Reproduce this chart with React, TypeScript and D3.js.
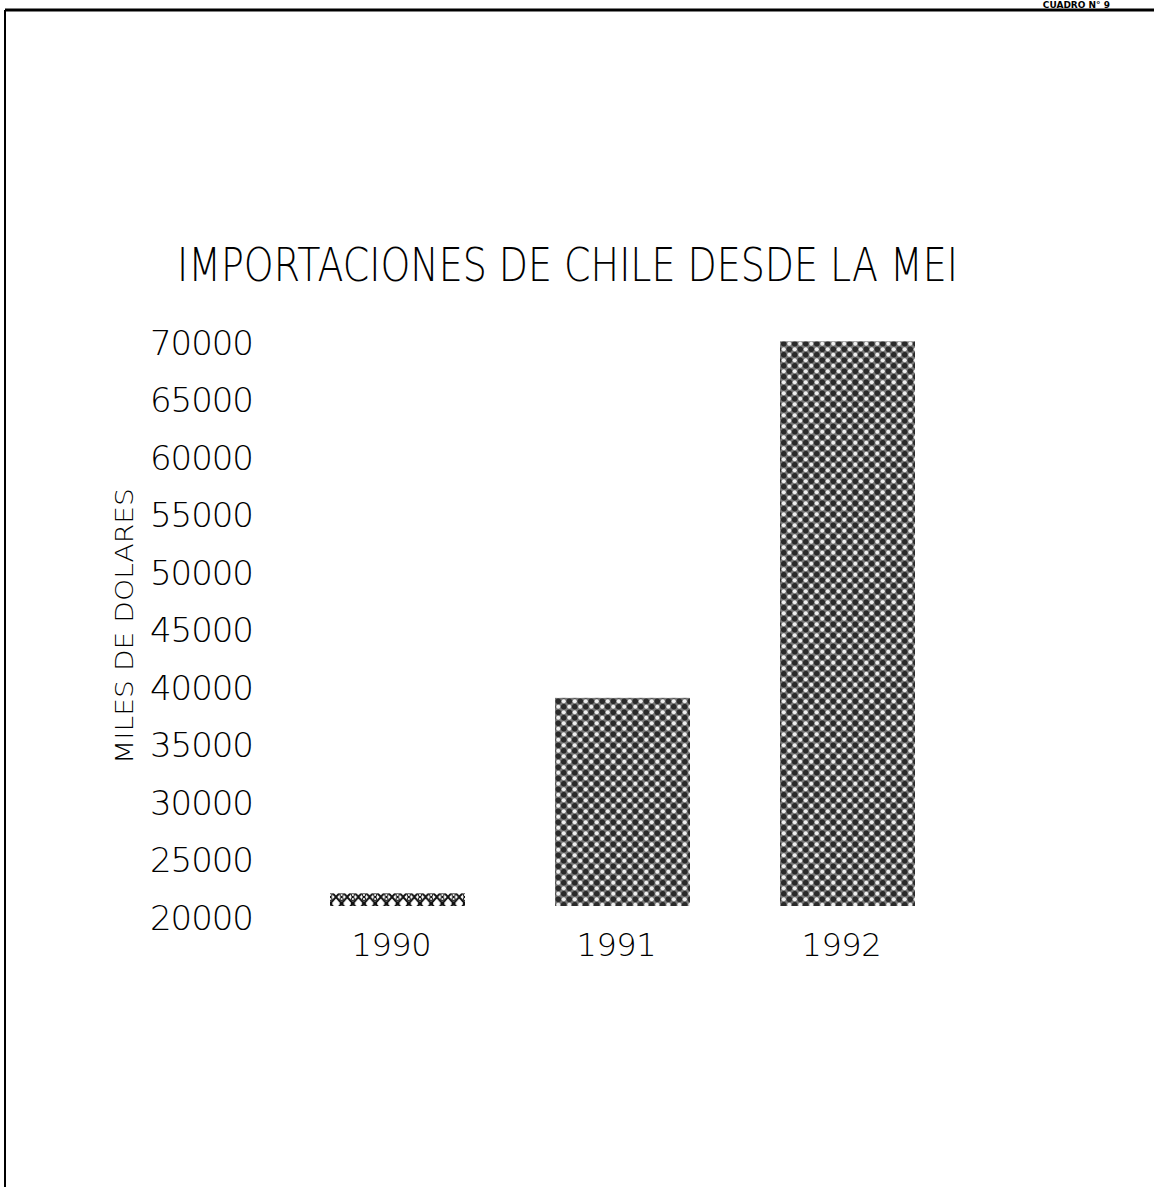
import React from "react";
import * as d3 from "d3";

const years = ["1990", "1991", "1992"];
const values = [21100, 38100, 69100];
const yTicks = [20000, 25000, 30000, 35000, 40000, 45000, 50000, 55000, 60000, 65000, 70000];
const title = "IMPORTACIONES DE CHILE DESDE LA MEI";
const yTitle = "MILES DE DOLARES";
const cornerText = "CUADRO N° 9";

const W = 1154;
const H = 1187;
const FONT = "'DejaVu Sans', 'Liberation Sans', sans-serif";

export default function App() {
  const x = d3.scaleBand<string>().domain(years).range([262.5, 982.5]).paddingInner(0.4).paddingOuter(0.3);
  const y = d3.scaleLinear().domain([20000, 70000]).range([906, 331]);

  return (
    <svg
      width={W}
      height={H}
      viewBox={`0 0 ${W} ${H}`}
      style={{ position: "absolute", left: 0, top: 0, background: "#fff" }}
    >
      <defs>
        <pattern id="check" width={11} height={11} patternUnits="userSpaceOnUse">
          <rect width={11} height={11} fill="#777" />
          <circle cx={2.75} cy={2.75} r={2.8} fill="#2a2a2a" />
          <circle cx={8.25} cy={8.25} r={2.8} fill="#2a2a2a" />
          <circle cx={8.25} cy={2.75} r={2} fill="#eee" />
          <circle cx={2.75} cy={8.25} r={2} fill="#eee" />
        </pattern>
        <pattern id="cross" width={11.2} height={13} patternUnits="userSpaceOnUse">
          <rect width={11.2} height={13} fill="#fff" />
          <path d="M0,0 L11.2,13 M11.2,0 L0,13" stroke="#111" strokeWidth={2} />
          <circle cx={5.6} cy={6.5} r={2} fill="#111" />
          <circle cx={5.6} cy={2} r={1.6} fill="none" stroke="#111" strokeWidth={1} />
          <circle cx={5.6} cy={11} r={1.6} fill="none" stroke="#111" strokeWidth={1} />
        </pattern>
      </defs>

      {/* frame */}
      <line x1={5} y1={10} x2={W} y2={10} stroke="#000" strokeWidth={3} />
      <line x1={5} y1={10} x2={5} y2={H} stroke="#000" strokeWidth={2} />
      <text x={1110} y={7.5} textAnchor="end" fontFamily={FONT} fontWeight="bold" fontSize={9} fill="#000">
        {cornerText}
      </text>

      {/* title */}
      <text
        x={177}
        y={281}
        fontFamily={FONT}
        fontWeight={200}
        fontSize={46}
        textLength={781}
        lengthAdjust="spacingAndGlyphs"
        fill="#000"
      >
        {title}
      </text>

      {/* y-axis title */}
      <text
        transform="translate(133,626) rotate(-90)"
        textAnchor="middle"
        fontFamily={FONT}
        fontWeight={200}
        fontSize={25}
        textLength={276}
        lengthAdjust="spacingAndGlyphs"
        fill="#000"
      >
        {yTitle}
      </text>

      {/* y tick labels */}
      {yTicks.map((t) => (
        <text
          key={t}
          x={254}
          y={y(t) + 11 + 12.5}
          textAnchor="end"
          fontFamily={FONT}
          fontWeight={200}
          fontSize={34}
          textLength={104}
          lengthAdjust="spacing"
          fill="#000"
        >
          {t}
        </text>
      ))}

      {/* bars */}
      {years.map((yr, i) => (
        <rect
          key={yr}
          x={x(yr)}
          y={y(values[i])}
          width={x.bandwidth()}
          height={y(20000) - y(values[i])}
          fill={i === 0 ? "url(#cross)" : "url(#check)"}
        />
      ))}

      {/* x labels */}
      {years.map((yr) => (
        <text
          key={yr}
          x={(x(yr) as number) + x.bandwidth() / 2 - 6}
          y={956}
          textAnchor="middle"
          fontFamily={FONT}
          fontWeight={200}
          fontSize={32}
          textLength={80}
          lengthAdjust="spacing"
          fill="#000"
        >
          {yr}
        </text>
      ))}
    </svg>
  );
}
